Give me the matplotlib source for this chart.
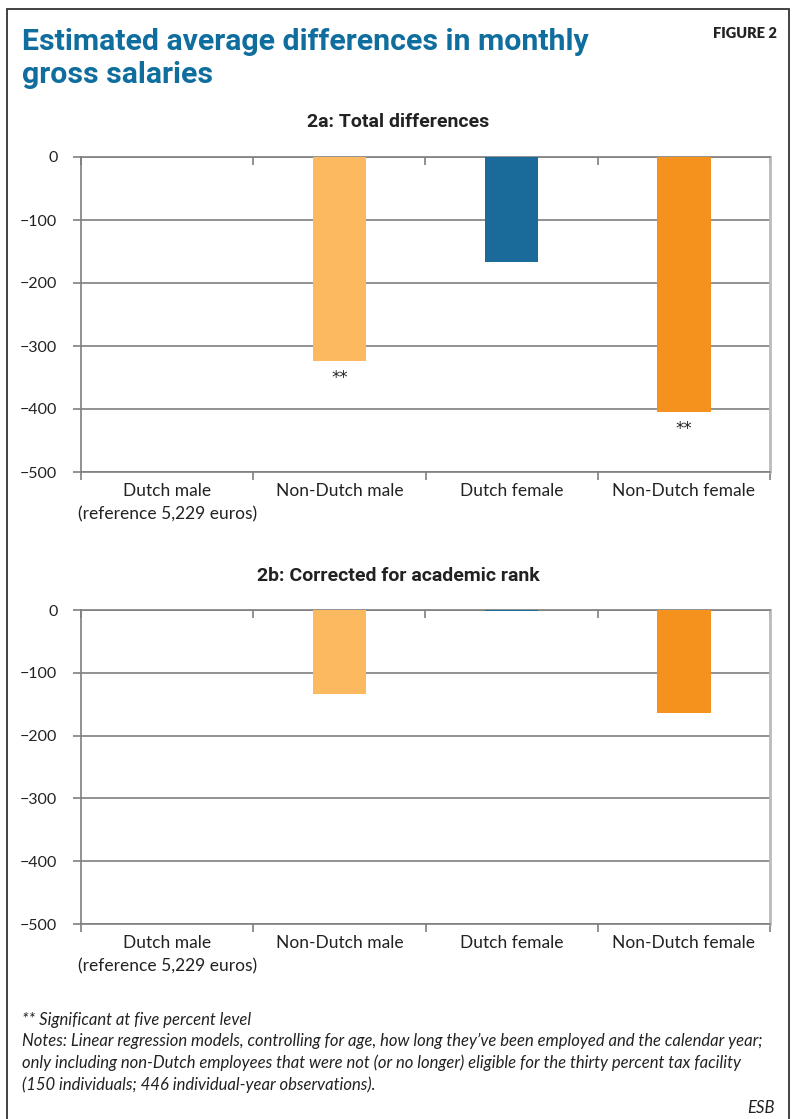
import numpy as np
import matplotlib.pyplot as plt
from matplotlib.patches import Rectangle

categories = ["Dutch male\n(reference 5,229 euros)", "Non-Dutch male", "Dutch female", "Non-Dutch female"]
total_diff = [0, -324, -167, -405]
corrected_diff = [0, -133, -2, -164]
sig_total = ["", "**", "", "**"]
sig_corrected = ["", "", "", ""]
bar_colors = ["#FDB95F", "#FDB95F", "#1A6B9A", "#F5921E"]
y_ticks = [0, -100, -200, -300, -400, -500]

TITLE_BLUE = "#0F6E9E"
GRID = "#7F7F7F"
BODY_FONT = ["Lato", "DejaVu Sans"]
HEAD_FONT = ["Roboto", "DejaVu Sans"]

W, H = 795, 1119
fig = plt.figure(figsize=(W / 100, H / 100), dpi=100)

# outer frame of the figure box
fig.patches.append(Rectangle((7 / W, -0.01), (789 - 7) / W, 1 - 9 / H + 0.01,
                             transform=fig.transFigure, fill=False,
                             edgecolor="#333333", linewidth=1.3))

fig.text(22 / W, 1 - 42 / H, "Estimated average differences in monthly",
         ha="left", va="center", fontsize=21.8, fontweight="bold", color=TITLE_BLUE,
         family=HEAD_FONT)
fig.text(22 / W, 1 - 75 / H, "gross salaries",
         ha="left", va="center", fontsize=21.8, fontweight="bold", color=TITLE_BLUE,
         family=HEAD_FONT)
fig.text(777 / W, 1 - 34 / H, "FIGURE 2", ha="right", va="center",
         fontsize=10.5, fontweight="heavy", color="#222222", family=BODY_FONT)


def draw_panel(ax, values, sig, subtitle, title_y):
    x = np.arange(len(categories))
    ax.bar(x, values, width=0.31, color=bar_colors, zorder=3)
    for xi, v, s in zip(x, values, sig):
        if s:
            ax.text(xi, v - 12, s, ha="center", va="top", fontsize=12,
                    color="#222222", family="DejaVu Sans")
    ax.set_xlim(-0.5, len(categories) - 0.5)
    ax.set_ylim(-500, 0)
    ax.set_yticks(y_ticks)
    ax.set_yticklabels([f"\u2212{-t}" if t else "0" for t in y_ticks],
                       fontsize=11.5, family=BODY_FONT, color="#222222")
    ax.yaxis.grid(True, color=GRID, linewidth=1.2, zorder=0)
    ax.set_axisbelow(True)
    # category boundaries as major ticks, labels on minor ticks at centres
    ax.set_xticks(np.arange(-0.5, len(categories)))
    ax.set_xticklabels([])
    ax.set_xticks(x, minor=True)
    ax.set_xticklabels(categories, minor=True, fontsize=12.5, family=BODY_FONT,
                       color="#222222", linespacing=1.55)
    ax.tick_params(axis="x", which="minor", length=0, pad=8)
    ax.tick_params(axis="x", which="major", length=6, width=1.2, color=GRID, direction="out")
    ax.tick_params(axis="y", length=6, width=1.2, color=GRID, pad=11)
    top = ax.secondary_xaxis("top")
    top.set_xticks(np.arange(-0.5, len(categories)))
    top.set_xticklabels([])
    top.tick_params(length=6, width=1.2, color=GRID, direction="in")
    top.spines["top"].set_visible(False)
    for side in ["left", "bottom", "top"]:
        ax.spines[side].set_color(GRID)
        ax.spines[side].set_linewidth(1.2)
    ax.spines["right"].set_color("#BBBBBB")
    ax.spines["right"].set_linewidth(2)
    fig.text(0.5 + 0.5 / W, 1 - title_y / H, subtitle, ha="center", va="center",
             fontsize=14, fontweight="bold", color="#222222", family=HEAD_FONT)


ax1 = fig.add_axes([81 / W, 1 - 472 / H, 689 / W, 315 / H])
draw_panel(ax1, total_diff, sig_total, "2a: Total differences", 122)

ax2 = fig.add_axes([81 / W, 1 - 924 / H, 689 / W, 314 / H])
draw_panel(ax2, corrected_diff, sig_corrected, "2b: Corrected for academic rank", 576)

notes = ("** Significant at five percent level\n"
         "Notes: Linear regression models, controlling for age, how long they\u2019ve been employed and the calendar year;\n"
         "only including non-Dutch employees that were not (or no longer) eligible for the thirty percent tax facility\n"
         "(150 individuals; 446 individual-year observations).")
fig.text(22 / W, 1 - 1012 / H, notes, ha="left", va="top", fontsize=12,
         style="italic", family=BODY_FONT, color="#222222", linespacing=1.38)
fig.text(775 / W, 1 - 1108 / H, "ESB", ha="right", va="center", fontsize=12,
         style="italic", family=BODY_FONT, color="#222222")

fig.savefig("out.png", dpi=100)
